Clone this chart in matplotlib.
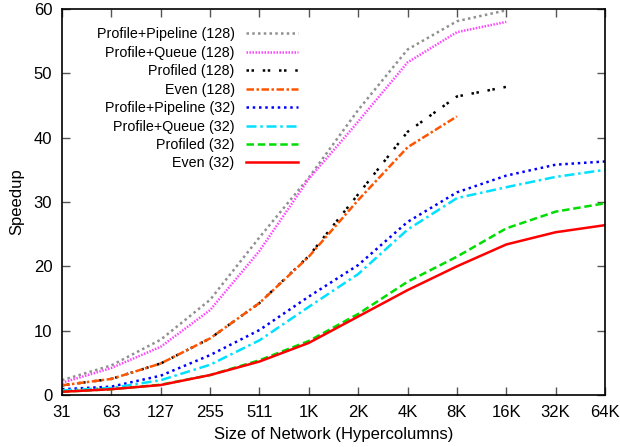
import matplotlib
matplotlib.use("Agg")
import matplotlib.pyplot as plt

plt.rcParams['font.family'] = ['Liberation Sans', 'DejaVu Sans']

xlabels = ["31", "63", "127", "255", "511", "1K", "2K", "4K", "8K", "16K", "32K", "64K"]

pp128 = [2.3, 4.6, 8.6, 14.8, 24.5, 33.8, 44.3, 53.7, 58.1, 59.8]
pq128 = [1.9, 4.2, 7.5, 13.2, 22.4, 33.6, 42.5, 51.7, 56.4, 58.0]
prof128 = [1.5, 2.5, 4.9, 8.8, 14.3, 21.6, 31.2, 40.9, 46.4, 47.9]
even128 = [1.5, 2.5, 4.9, 8.8, 14.3, 21.5, 30.3, 38.5, 43.3]
pp32 = [0.9, 1.3, 3.0, 6.2, 10.1, 15.3, 20.2, 26.9, 31.5, 34.1, 35.8, 36.3]
pq32 = [0.7, 1.1, 2.3, 4.7, 8.5, 13.7, 18.8, 25.7, 30.6, 32.3, 33.9, 35.0]
prof32 = [0.5, 0.9, 1.6, 3.1, 5.4, 8.4, 12.6, 17.6, 21.5, 25.9, 28.5, 29.8]
even32 = [0.5, 0.9, 1.55, 3.1, 5.2, 8.1, 12.2, 16.3, 20.0, 23.4, 25.3, 26.4]

series = [
    ("Profile+Pipeline (128)", pp128, "#909090", (0, (1, 1.3))),
    ("Profile+Queue (128)", pq128, "#ff44ff", (0, (0.6, 0.6))),
    ("Profiled (128)", prof128, "#000000", (0, (1, 1, 1, 3.5))),
    ("Even (128)", even128, "#ff5500", (0, (3, 1, 1, 1))),
    ("Profile+Pipeline (32)", pp32, "#0000ff", (0, (1, 1.5))),
    ("Profile+Queue (32)", pq32, "#00e0ff", (0, (4, 1.5, 1, 1.5))),
    ("Profiled (32)", prof32, "#00dd00", (0, (3, 1.5))),
    ("Even (32)", even32, "#ff0000", "-"),
]

fig = plt.figure(figsize=(6.2, 4.47), dpi=100)
ax = fig.add_axes([62/620, 1 - 395/447, 543/620, 386/447])

for label, vals, color, ls in series:
    ax.plot(range(len(vals)), vals, color=color, linestyle=ls, linewidth=1.8, label=label)

ax.set_xlim(0, len(xlabels) - 1)
ax.set_ylim(0, 60)
ax.set_xticks(range(len(xlabels)))
ax.set_xticklabels(xlabels)
ax.set_yticks(range(0, 61, 10))
ax.tick_params(direction='in', length=6, width=1, top=True, right=True,
               labelsize=12, color='#555555', pad=7)
for s in ax.spines.values():
    s.set_linewidth(1.2)
ax.set_xlabel("Size of Network (Hypercolumns)", fontsize=12, labelpad=5)
ax.set_ylabel("Speedup", fontsize=12, labelpad=7)

leg = ax.legend(loc='upper right', bbox_to_anchor=(0.455, 0.982), frameon=False,
                markerfirst=False, fontsize=10.3, handlelength=3.6, handletextpad=0.8,
                labelspacing=0.31, borderpad=0.3)
for t in leg.get_texts():
    t.set_ha('right')
leg._legend_box.align = "right"

fig.savefig("out.png", dpi=100)
